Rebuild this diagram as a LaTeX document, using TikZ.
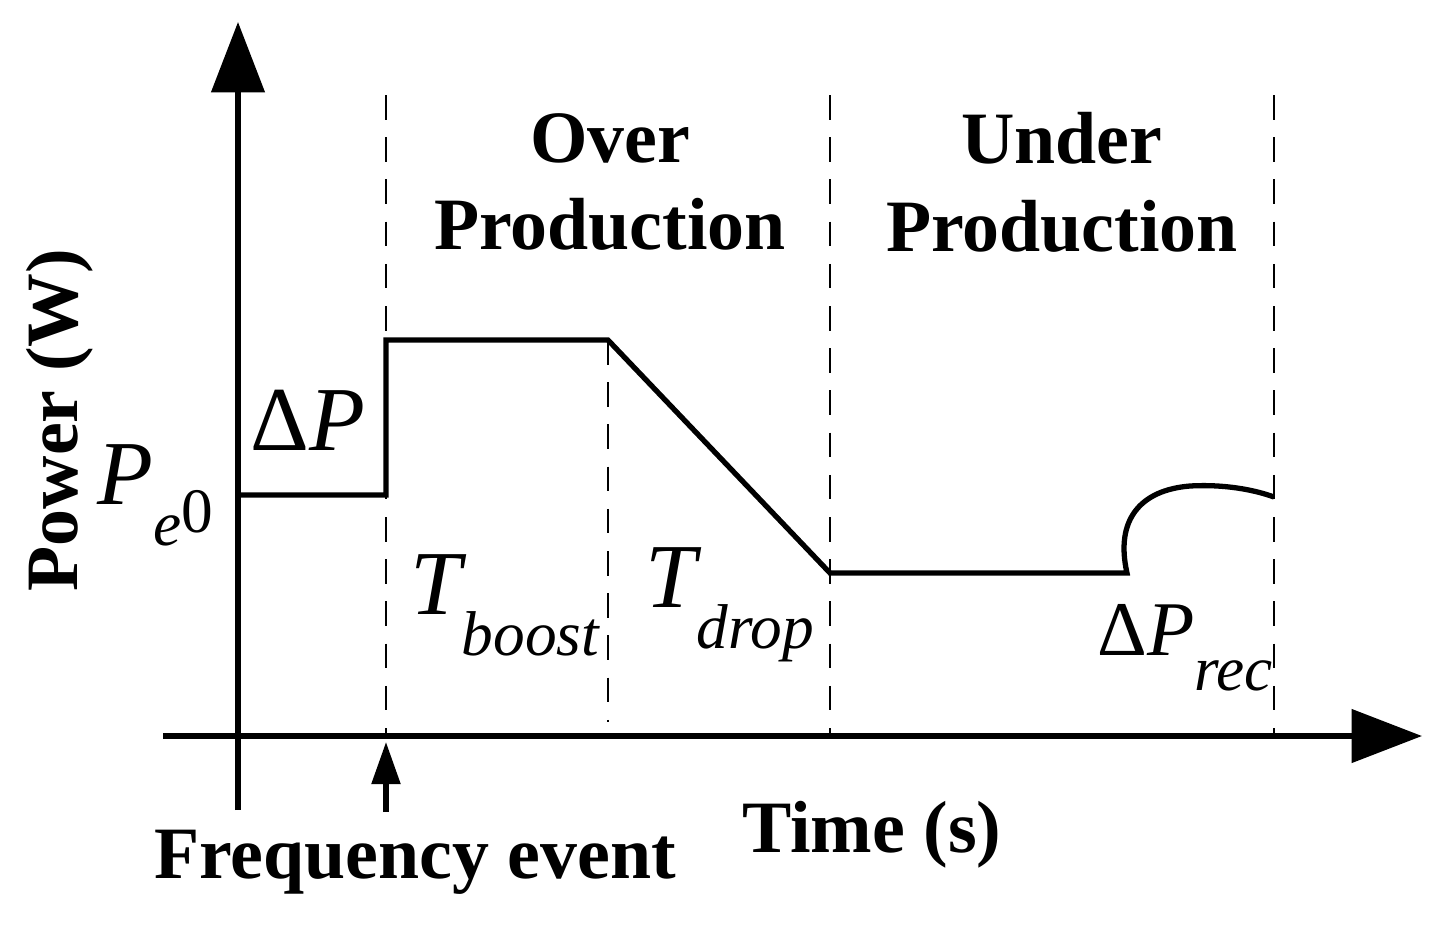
\documentclass[tikz,border=0pt]{standalone}
\usepackage{fontspec}
\setmainfont{Liberation Serif}
\usetikzlibrary{arrows.meta}
\newcommand{\subt}[1]{\raisebox{-0.45em}{\fontsize{18}{20}\selectfont\itshape #1}}
\begin{document}
\begin{tikzpicture}[x=0.01cm,y=-0.01cm,
  axis/.style={line width=1.5pt,-{Triangle[length=20pt,width=15pt]}},
  guide/.style={line width=0.7pt,dash pattern=on 7pt off 5pt},
  curve/.style={line width=1.5pt,line join=miter},
  lbl/.style={font=\bfseries\fontsize{21}{23}\selectfont,align=center},
  math/.style={font=\fontsize{26}{28}\selectfont\itshape}]
\useasboundingbox (0,0) rectangle (1453,935);
\coordinate (ya) at (238,810); \coordinate (yb) at (238,22);
\coordinate (xa) at (163,736); \coordinate (xb) at (1422,736);
\draw[axis] (ya) -- (yb);
\draw[axis] (xa) -- (xb);
\coordinate (ea) at (386,812); \coordinate (eb) at (386,742);
\draw[line width=1.5pt,-{Triangle[length=12pt,width=8pt]}] (ea) -- (eb);
\foreach \x/\t/\b in {386/95/736,608/340/722,830/95/736,1274/95/736}
  \draw[guide] (\x,\t) -- (\x,\b);
\draw[curve] (238,495) -- (386,495) -- (386,340) -- (608,340) -- (830,573) -- (1127,573)
  .. controls (1115,520) and (1140,490) .. (1190,486)
  .. controls (1225,484) and (1255,490) .. (1274,497);
\node[lbl] (op) at (610,182) {Over\\[2pt]Production};
\node[lbl] (up) at (1062,182) {Under\\[2pt]Production};
\node[lbl,rotate=90] (pw) at (60,420) {Power (W)};
\node[lbl] (tm) at (872,835) {Time (s)};
\node[lbl] (fe) at (415,862) {Frequency event};
\node[math] (dp) at (308,420) {{\upshape Δ}P};
\node[math] (pe) at (155,495) {P\subt{e}{\upshape\fontsize{18}{20}\selectfont\raisebox{-0.45em}{0}}};
\node[math] (tb) at (505,605) {T\subt{boost}};
\node[math] (td) at (730,605) {T\subt{drop}};
\node[math,font=\fontsize{22}{24}\selectfont\itshape] (dr) at (1185,648) {{\upshape Δ}P\subt{rec}};
\end{tikzpicture}
\end{document}
